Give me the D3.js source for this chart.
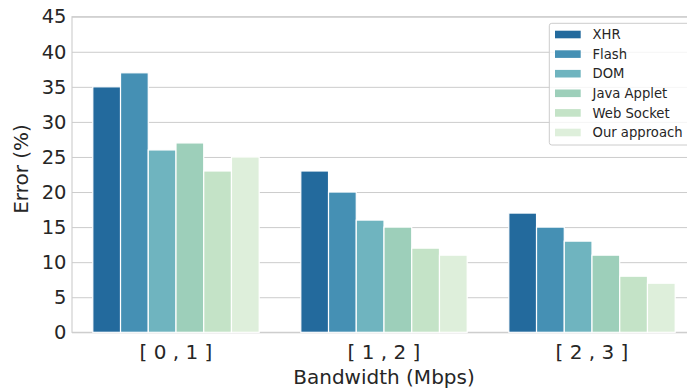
<!DOCTYPE html>
<html>
<head>
<meta charset="utf-8">
<script src="https://cdn.jsdelivr.net/npm/d3@7"></script>
<style>
  html, body { margin: 0; padding: 0; background: #ffffff; overflow: hidden; }
  svg { display: block; font-family: "DejaVu Sans", sans-serif; }
</style>
</head>
<body>
<svg id="chart" width="687" height="389"></svg>
<script>
const categories = ["[ 0 , 1 ]", "[ 1 , 2 ]", "[ 2 , 3 ]"];
const seriesNames = ["XHR", "Flash", "DOM", "Java Applet", "Web Socket", "Our approach"];
const seriesColors = ["#236a9d", "#4590b4", "#6fb4bf", "#9dcfba", "#c4e3c7", "#deefdb"];
const xhr = [35, 23, 17];
const flash = [37, 20, 15];
const dom = [26, 16, 13];
const javaApplet = [27, 15, 11];
const webSocket = [23, 12, 8];
const ourApproach = [25, 11, 7];
const yTicks = [0, 5, 10, 15, 20, 25, 30, 35, 40, 45];

const seriesValues = [xhr, flash, dom, javaApplet, webSocket, ourApproach];

const svg = d3.select("#chart");
const mLeft = 72, mRight = 696, mTop = 16.7, mBottom = 332.3;
const textColor = "#262626";
const gridColor = "#cccccc";
const fontFam = "'DejaVu Sans', sans-serif";

const x = d3.scaleBand().domain(categories).range([mLeft, mRight]).paddingInner(0).paddingOuter(0);
const groupW = x.bandwidth() * 0.8;
const xi = d3.scaleBand().domain(seriesNames).range([0, groupW]).padding(0);
const y = d3.scaleLinear().domain([0, 45]).range([mBottom, mTop]);

// grid
const yAxis = d3.axisLeft(y).tickValues(yTicks).tickSize(-(mRight - mLeft)).tickPadding(6);
const gy = svg.append("g").attr("transform", `translate(${mLeft},0)`).call(yAxis)
  .attr("font-family", fontFam);
gy.select(".domain").remove();
gy.selectAll(".tick line").attr("stroke", gridColor).attr("stroke-width", 1);
gy.selectAll(".tick text").attr("fill", textColor).attr("font-size", 19.5).attr("x", -5.5);

// spines
svg.append("rect").attr("x", mLeft).attr("y", mTop).attr("width", mRight - mLeft).attr("height", mBottom - mTop)
  .attr("fill", "none").attr("stroke", gridColor).attr("stroke-width", 1.1);

// bars
const data = [];
categories.forEach((c, ci) => {
  seriesNames.forEach((s, si) => {
    data.push({ cat: c, series: s, value: seriesValues[si][ci], color: seriesColors[si] });
  });
});
svg.append("g").selectAll("rect").data(data).join("rect")
  .attr("x", d => x(d.cat) + x.bandwidth() * 0.1 + xi(d.series))
  .attr("width", xi.bandwidth())
  .attr("y", d => y(d.value))
  .attr("height", d => y(0) - y(d.value))
  .attr("fill", d => d.color)
  .attr("stroke", "#ffffff")
  .attr("stroke-width", 1.2);

// x axis labels
const xAxis = d3.axisBottom(x).tickSize(0).tickPadding(0);
const gx = svg.append("g").attr("transform", `translate(0,${mBottom})`).call(xAxis)
  .attr("font-family", fontFam);
gx.select(".domain").remove();
gx.selectAll(".tick text").attr("fill", textColor).attr("font-size", 20).attr("dy", null).attr("y", 26.5)
  .style("white-space", "pre");

// axis titles
svg.append("text").attr("x", (mLeft + mRight) / 2).attr("y", 383.5).attr("text-anchor", "middle")
  .attr("fill", textColor).attr("font-size", 20).text("Bandwidth (Mbps)");
svg.append("text").attr("transform", `translate(28,169) rotate(-90)`).attr("text-anchor", "middle")
  .attr("fill", textColor).attr("font-size", 20).text("Error (%)");

// legend
const lg = svg.append("g");
lg.append("rect").attr("x", 549.3).attr("y", 23.3).attr("width", 160).attr("height", 121.7)
  .attr("rx", 2.5).attr("fill", "#ffffff").attr("fill-opacity", 0.8).attr("stroke", gridColor).attr("stroke-width", 1);
seriesNames.forEach((s, i) => {
  const cy = 34.5 + i * 19.6;
  lg.append("rect").attr("x", 555).attr("y", cy - 3.8).attr("width", 25.7).attr("height", 7.6).attr("fill", seriesColors[i]);
  lg.append("text").attr("x", 592.5).attr("y", cy).attr("dy", "0.36em").attr("fill", textColor)
    .attr("font-size", 13.2).text(s);
});
</script>
</body>
</html>
